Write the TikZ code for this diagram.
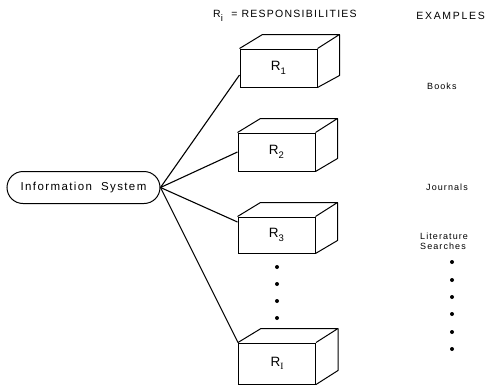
\documentclass[tikz,border=0pt]{standalone}
\usepackage{fontspec}
\setmainfont{Liberation Sans}
\newfontfamily\lettering[LetterSpace=12]{Liberation Sans}
\newfontfamily\widelettering[LetterSpace=16]{Liberation Sans}
\newfontfamily\serifletter{Liberation Serif}
\usetikzlibrary{calc}

% front face of a responsibility block; top and side faces are added by \blockfaces
\tikzset{
  frontface/.style={draw, line width=1pt, minimum width=77pt, inner sep=0pt,
    font=\lettering\fontsize{13.5}{15}\selectfont},
  oval/.style={draw, line width=1pt, rounded corners=16pt, minimum width=153pt,
    minimum height=32pt, inner sep=0pt, font=\lettering\fontsize{11.5}{13}\selectfont},
  link/.style={line width=1.1pt},
  edge/.style={line width=1pt, line join=round},
  heading/.style={font=\lettering\fontsize{10.5}{12}\selectfont, inner sep=0pt},
  example/.style={font=\lettering\fontsize{9}{11}\selectfont, inner sep=0pt, align=left},
  bullet/.style={circle, fill=black, inner sep=0pt, minimum size=4pt}
}

% top and right faces of a block whose front face is node #1
\newcommand\blockfaces[2]{%
  \draw[edge] (#1.north west) -- ++(23,-14) -- ++(77,0) coordinate (#1-back)
    -- (#1.north east);
  \draw[edge] (#1-back) -- ++(0,#2) -- (#1.south east);
}
\newcommand\subs[1]{\raisebox{-3.5pt}{\fontsize{9.5}{10}\selectfont #1}}

\begin{document}
\begin{tikzpicture}[x=1pt, y=-1pt]
\useasboundingbox (0,0) rectangle (487,386);

% headings
\node[heading, anchor=west] (hres) at (213,16) {R\subs{i}\ \ = RESPONSIBILITIES};
\node[heading, anchor=east, font=\widelettering\fontsize{10.5}{12}\selectfont]
  (hex) at (485,16) {EXAMPLES};

% the system
\node[oval] (sys) at (83.5,187.5) {Information\ \ System};

% responsibility blocks
\node[frontface, minimum height=38pt] (r1) at (278.5,68) {R\subs{1}};
\node[frontface, minimum height=38pt] (r2) at (276.5,152) {R\subs{2}};
\node[frontface, minimum height=36pt] (r3) at (276.5,235) {R\subs{3}};
\node[frontface, minimum height=41pt] (rn) at (277,363.5) {R\subs{\serifletter I}};
\blockfaces{r1}{41}
\blockfaces{r2}{40}
\blockfaces{r3}{38}
\blockfaces{rn}{42}

% connectors
\draw[link] (sys.east) -- ([yshift=-7pt]r1.west);
\draw[link] (sys.east) -- (r2.west);
\draw[link] (sys.east) -- ([yshift=13pt]r3.west);
\draw[link] (sys.east) -- (rn.north west);

% ellipsis between blocks
\foreach \y [count=\k] in {267,284,301,318}
  \node[bullet] (d\k) at (277,\y) {};

% examples
\node[example, anchor=west] (books) at (427,86) {Books};
\node[example, anchor=west] (journals) at (426,187) {Journals};
\node[example, anchor=north west] (lit) at (420,233) {Literature\\[-1pt]Searches};
\foreach \y [count=\k] in {262,280,297,314,332,349}
  \node[bullet] (e\k) at (452,\y) {};
\end{tikzpicture}
\end{document}
